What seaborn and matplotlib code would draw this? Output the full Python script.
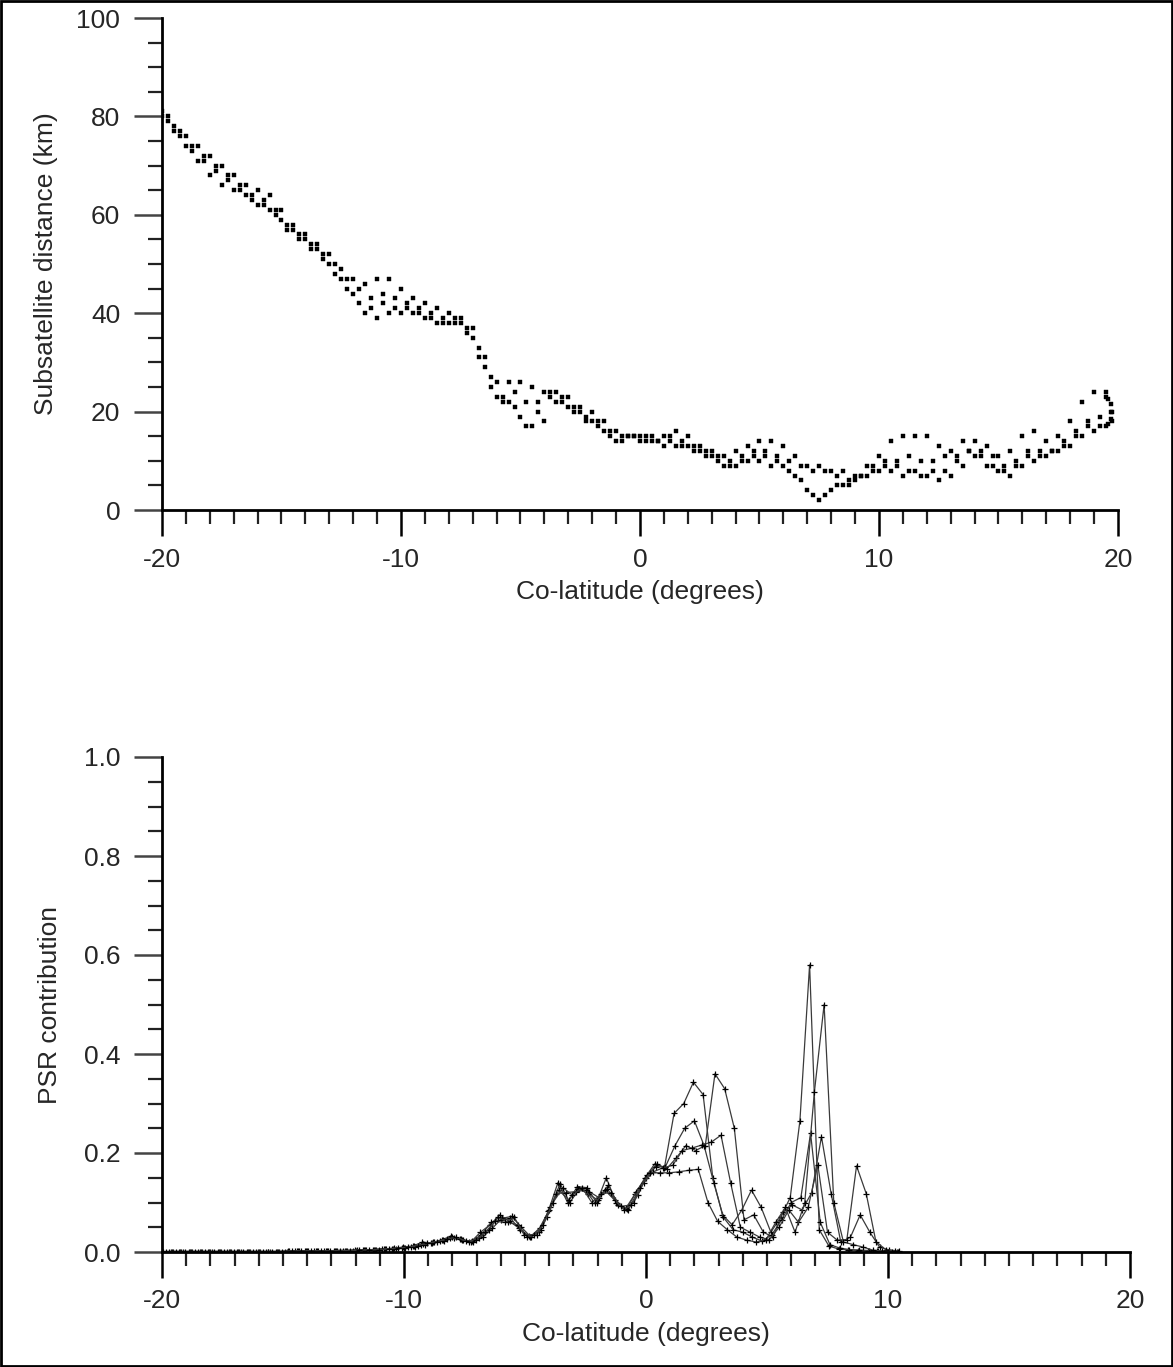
import numpy as np
import pandas as pd
import matplotlib
matplotlib.use("Agg")
import matplotlib.pyplot as plt
import seaborn as sns
from matplotlib.ticker import MultipleLocator, FormatStrFormatter
from matplotlib.patches import Rectangle

sns.set_style("ticks")
plt.rcParams["font.family"] = ["Liberation Sans", "DejaVu Sans"]
plt.rcParams["axes.unicode_minus"] = False

# ---------------- Top panel data: subsatellite distance tracks (km) ----------------
# sample spacing 0.5 deg, first co-latitude given by *_start
track_a_start = -20.0
track_a = [81, 78, 76, 74, 72, 70, 68, 66, 65, 64, 61, 58, 56, 54, 52, 49, 47, 46, 47, 47,
           45, 43, 42, 41, 40, 39, 37, 31, 26, 26, 26, 25, 24, 24, 23, 21, 20, 18, 16, 15,
           15, 15, 15, 16, 15, 13, 12, 11, 12, 13, 14, 14, 13, 11, 9, 9, 8, 8, 7, 9,
           11, 14, 15, 15, 15, 13, 12, 14, 14, 13, 11, 12, 15, 16, 14, 15, 18, 22, 24, 24]
track_b_start = -19.75
track_b = [80, 77, 74, 72, 70, 68, 66, 64, 62, 61, 58, 56, 54, 52, 50, 47, 45, 43, 44, 43,
           42, 40, 39, 39, 39, 37, 33, 27, 23, 24, 22, 22, 24, 23, 21, 19, 18, 16, 15, 15,
           15, 14, 14, 13, 13, 12, 10, 10, 11, 11, 11, 10, 10, 9, 8, 8, 7, 6, 7, 9,
           10, 10, 11, 10, 10, 11, 11, 12, 12, 11, 9, 10, 12, 12, 12, 14, 16, 18, 19, 20]
track_c_start = -20.0
track_c = [80, 77, 74, 71, 68, 66, 65, 64, 62, 61, 59, 57, 55, 53, 50, 47, 44, 40, 39, 40,
           40, 40, 39, 38, 38, 38, 35, 29, 23, 22, 19, 17, 18, 22, 21, 20, 18, 16, 14, 15,
           14, 14, 13, 13, 13, 12, 11, 9, 9, 10, 10, 9, 9, 7, 4, 2, 4, 5, 6, 7,
           8, 8, 7, 8, 7, 6, 7, 9, 11, 9, 8, 7, 9, 10, 11, 12, 13, 15, 16, 17]
track_d_start = -19.75
track_d = [79, 76, 73, 71, 69, 67, 65, 63, 63, 60, 57, 55, 53, 51, 48, 45, 42, 41, 42, 41,
           41, 41, 40, 38, 38, 36, 31, 25, 22, 21, 17, 20, 23, 22, 20, 18, 17, 15, 14, 15,
           14, 14, 15, 14, 12, 11, 11, 9, 10, 12, 12, 11, 8, 6, 3, 3, 5, 5, 7, 8,
           9, 9, 8, 7, 8, 8, 10, 12, 11, 9, 8, 9, 11, 11, 12, 13, 15, 17, 17, 18]
track_e_x = [19.6, 19.7, 19.7, 19.7, 19.6, 19.5]
track_e = [17.5, 18.5, 20.0, 21.5, 22.5, 23.0]

# ---------------- Bottom panel data: PSR contribution ----------------
# sample spacing 0.4 deg, first co-latitude given by *_start
psr1_start = -19.64
psr1 = [0.001, 0.001, 0.001, 0.001, 0.001, 0.001, 0.001, 0.001, 0.001, 0.001, 0.001, 0.001, 0.001,
        0.002, 0.002, 0.002, 0.002, 0.003, 0.003, 0.004, 0.004, 0.005, 0.006, 0.007, 0.010, 0.012,
        0.020, 0.018, 0.025, 0.032, 0.026, 0.020, 0.040, 0.055, 0.075, 0.062, 0.048, 0.032, 0.040,
        0.082, 0.140, 0.100, 0.132, 0.130, 0.100, 0.150, 0.100, 0.088, 0.118, 0.150, 0.178, 0.170,
        0.280, 0.300, 0.343, 0.318, 0.150, 0.075, 0.055, 0.085, 0.125, 0.090, 0.040, 0.070, 0.110,
        0.265, 0.580, 0.045, 0.012, 0.006, 0.004, 0.003, 0.002, 0.002, 0.001, 0.000]
psr2_start = -19.95
psr2 = [0.001, 0.001, 0.001, 0.001, 0.001, 0.001, 0.001, 0.001, 0.001, 0.001, 0.001, 0.001, 0.001,
        0.002, 0.002, 0.002, 0.002, 0.002, 0.003, 0.003, 0.004, 0.004, 0.005, 0.006, 0.007, 0.009,
        0.011, 0.015, 0.020, 0.022, 0.028, 0.024, 0.020, 0.030, 0.048, 0.068, 0.072, 0.050, 0.030,
        0.045, 0.090, 0.138, 0.100, 0.128, 0.122, 0.110, 0.135, 0.095, 0.085, 0.115, 0.155, 0.178,
        0.168, 0.190, 0.215, 0.205, 0.215, 0.360, 0.330, 0.250, 0.065, 0.075, 0.040, 0.030, 0.080,
        0.095, 0.085, 0.120, 0.233, 0.118, 0.020, 0.030, 0.075, 0.040, 0.010, 0.004, 0.002]
psr3_start = -20.0
psr3 = [0.001, 0.001, 0.001, 0.001, 0.001, 0.001, 0.001, 0.001, 0.001, 0.001, 0.001, 0.001, 0.001,
        0.002, 0.002, 0.002, 0.002, 0.002, 0.003, 0.003, 0.003, 0.004, 0.005, 0.006, 0.008, 0.008,
        0.012, 0.016, 0.020, 0.024, 0.030, 0.024, 0.022, 0.035, 0.060, 0.065, 0.068, 0.045, 0.030,
        0.048, 0.085, 0.125, 0.105, 0.128, 0.118, 0.105, 0.128, 0.098, 0.086, 0.122, 0.150, 0.172,
        0.172, 0.215, 0.250, 0.265, 0.215, 0.140, 0.070, 0.045, 0.040, 0.030, 0.022, 0.035, 0.065,
        0.100, 0.110, 0.240, 0.060, 0.015, 0.008, 0.005, 0.004, 0.003, 0.002, 0.001, 0.000]
psr4_start = -19.7
psr4 = [0.001, 0.001, 0.001, 0.001, 0.001, 0.001, 0.001, 0.001, 0.001, 0.001, 0.001, 0.001, 0.001,
        0.002, 0.002, 0.002, 0.002, 0.003, 0.003, 0.003, 0.004, 0.005, 0.006, 0.007, 0.008, 0.010,
        0.014, 0.018, 0.022, 0.028, 0.026, 0.020, 0.028, 0.045, 0.070, 0.060, 0.055, 0.030, 0.035,
        0.070, 0.118, 0.120, 0.122, 0.125, 0.098, 0.125, 0.105, 0.085, 0.100, 0.140, 0.162, 0.170,
        0.175, 0.205, 0.210, 0.216, 0.222, 0.236, 0.139, 0.050, 0.040, 0.030, 0.025, 0.050, 0.085,
        0.060, 0.090, 0.176, 0.040, 0.024, 0.025, 0.174, 0.118, 0.021, 0.005, 0.002]
psr5_start = -19.84
psr5 = [0.001, 0.001, 0.001, 0.001, 0.001, 0.001, 0.001, 0.001, 0.001, 0.001, 0.001, 0.001, 0.001,
        0.002, 0.002, 0.002, 0.002, 0.002, 0.003, 0.003, 0.004, 0.004, 0.005, 0.006, 0.008, 0.010,
        0.013, 0.018, 0.021, 0.026, 0.030, 0.022, 0.024, 0.040, 0.062, 0.060, 0.070, 0.035, 0.035,
        0.055, 0.100, 0.130, 0.115, 0.130, 0.100, 0.118, 0.120, 0.092, 0.095, 0.130, 0.160, 0.160,
        0.160, 0.162, 0.165, 0.167, 0.100, 0.062, 0.045, 0.030, 0.024, 0.020, 0.025, 0.060, 0.090,
        0.040, 0.100, 0.324, 0.500, 0.100, 0.020, 0.015, 0.010, 0.004, 0.002, 0.000]

x_major = [-20, -10, 0, 10, 20]
top_yticks = [0, 20, 40, 60, 80, 100]
bottom_yticks = [0.0, 0.2, 0.4, 0.6, 0.8, 1.0]

# ---------------- build frames ----------------
rows = []
for name, start, ys in [("A", track_a_start, track_a), ("B", track_b_start, track_b),
                        ("C", track_c_start, track_c), ("D", track_d_start, track_d)]:
    xs = start + 0.5 * np.arange(len(ys))
    rows.append(pd.DataFrame({"colat": xs, "dist": ys, "track": name}))
rows.append(pd.DataFrame({"colat": track_e_x, "dist": track_e, "track": "E"}))
top_df = pd.concat(rows, ignore_index=True)

psr_rows = []
for name, start, ys in [("1", psr1_start, psr1), ("2", psr2_start, psr2), ("3", psr3_start, psr3),
                        ("4", psr4_start, psr4), ("5", psr5_start, psr5)]:
    xs = np.round(start + 0.4 * np.arange(len(ys)), 3)
    psr_rows.append(pd.DataFrame({"colat": xs, "psr": ys, "series": name}))
psr_df = pd.concat(psr_rows, ignore_index=True)

# ---------------- figure ----------------
W, H = 1173, 1367
fig = plt.figure(figsize=(W / 100, H / 100), dpi=100)
ax1 = fig.add_axes([162 / W, 1 - 510 / H, (1118 - 162) / W, (510 - 18) / H])
ax2 = fig.add_axes([162 / W, 1 - 1252 / H, (1130 - 162) / W, (1252 - 757) / H])

FS = 19

sns.scatterplot(data=top_df, x="colat", y="dist", ax=ax1, marker="s", s=6.5,
                color="black", edgecolor="black", linewidth=0.3, legend=False)

for name, grp in psr_df.groupby("series"):
    sns.lineplot(data=grp, x="colat", y="psr", ax=ax2, color="#3a3a3a", lw=0.9,
                 marker="+", markersize=4, markeredgecolor="black", markeredgewidth=0.9,
                 estimator=None, sort=False, legend=False)


def style(ax, ylim, yticks, ymajor_minor, fmt, xlabel, ylabel):
    ax.set_xlim(-20, 20)
    ax.set_ylim(*ylim)
    ax.set_xticks(x_major)
    ax.xaxis.set_minor_locator(MultipleLocator(1))
    ax.set_yticks(yticks)
    ax.yaxis.set_minor_locator(MultipleLocator(ymajor_minor))
    ax.yaxis.set_major_formatter(FormatStrFormatter(fmt))
    for s in ["top", "right"]:
        ax.spines[s].set_visible(False)
    for s in ["left", "bottom"]:
        ax.spines[s].set_linewidth(2.0)
        ax.spines[s].set_color("black")
    ax.tick_params(axis="x", which="major", direction="out", length=19, width=1.8,
                   pad=8, labelsize=FS, color="black")
    ax.tick_params(axis="x", which="minor", direction="out", length=10, width=1.6, color="#222222")
    ax.tick_params(axis="y", which="major", direction="out", length=20, width=1.8,
                   pad=10, labelsize=FS, color="#444444")
    ax.tick_params(axis="y", which="minor", direction="out", length=10, width=1.6, color="#222222")
    ax.set_xlabel(xlabel, fontsize=FS, labelpad=6)
    ax.set_ylabel(ylabel, fontsize=FS)
    ax.patch.set_alpha(0)


style(ax1, (0, 100), top_yticks, 5, "%d", "Co-latitude (degrees)", "Subsatellite distance (km)")
style(ax2, (0, 1.0), bottom_yticks, 0.05, "%.1f", "Co-latitude (degrees)", "PSR contribution")
ax1.yaxis.set_label_coords(-0.109, 0.5)
ax2.yaxis.set_label_coords(-0.103, 0.5)

fig.patches.append(Rectangle((0.001, 0.001), 0.998, 0.998, transform=fig.transFigure,
                             fill=False, edgecolor="black", linewidth=2))

fig.savefig("out.png", dpi=100, facecolor="white")
